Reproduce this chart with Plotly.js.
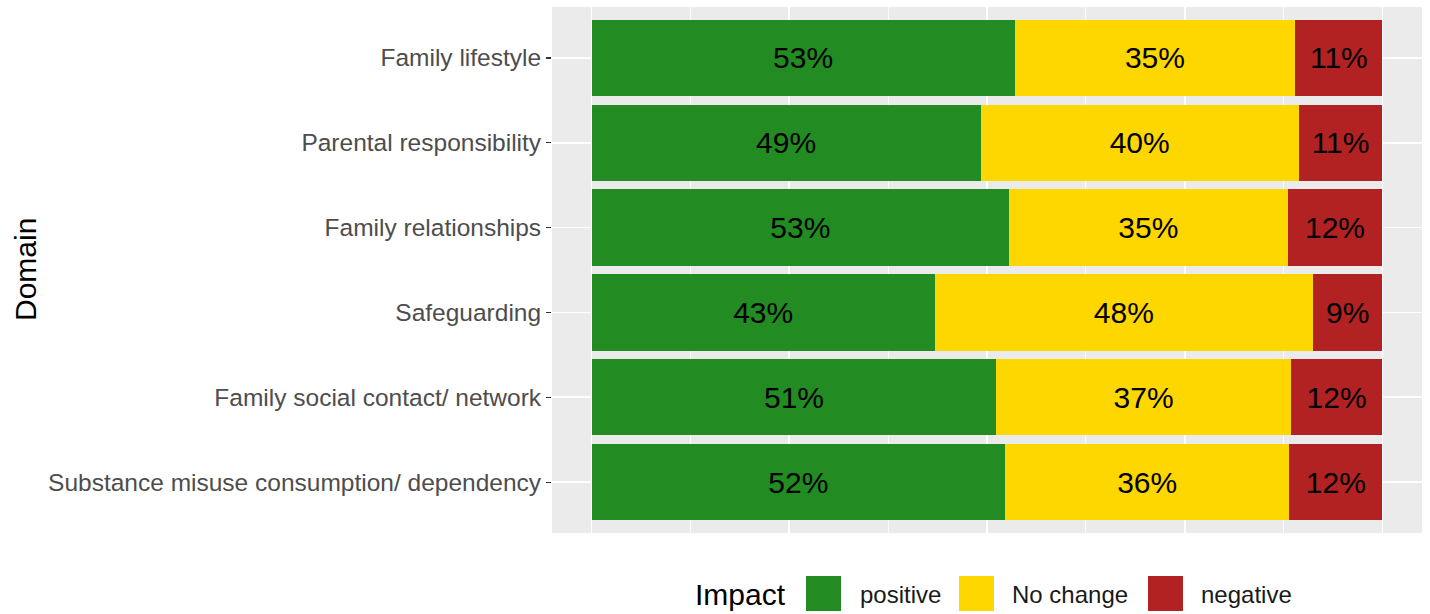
<!DOCTYPE html>
<html>
<head>
<meta charset="utf-8">
<script src="https://cdn.plot.ly/plotly-3.0.1.min.js"></script>
<style>html,body{margin:0;padding:0;background:#fff;}#chart{width:1430px;height:614px;}</style>
</head>
<body>
<div id="chart"></div>
<script>
// Data (top to bottom as displayed)
const domains = [
  "Family lifestyle",
  "Parental responsibility",
  "Family relationships",
  "Safeguarding",
  "Family social contact/ network",
  "Substance misuse consumption/ dependency"
];
const positive = [0.5349, 0.492, 0.528, 0.434, 0.512, 0.523];
const noChange = [0.3549, 0.402, 0.352, 0.478, 0.372, 0.359];
const negative = [0.1102, 0.106, 0.120, 0.088, 0.116, 0.118];
const seriesNames = ["positive", "No change", "negative"];
const seriesColors = ["#228B22", "#FFD700", "#B22222"];

const FONT = "Liberation Sans, Arial, sans-serif";
const W = 1430, H = 614;
const M = {l: 552, r: 8, t: 7, b: 81};
const plotW = W - M.l - M.r, plotH = H - M.t - M.b;
const px2x = p => (p - M.l) / plotW;
const py2y = p => (M.t + plotH - p) / plotH;

const pct = v => Math.round(v * 100) + "%";

const seriesVals = [positive, noChange, negative];
const traces = seriesVals.map((vals, i) => ({
  type: "bar",
  orientation: "h",
  name: seriesNames[i],
  y: domains,
  x: vals,
  marker: {color: seriesColors[i], line: {width: 0}},
  text: vals.map(pct),
  textposition: "inside",
  insidetextanchor: "middle",
  textangle: 0,
  constraintext: "none",
  textfont: {family: FONT, size: 30, color: "#000000"},
  hoverinfo: "name+x+y",
  showlegend: false
}));

// custom legend (ggplot-style large keys)
const legendY = py2y(594);
const keyLeft = [806, 959, 1148];
const labelLeft = [858, 1010, 1199];
const shapes = [];
const annotations = [];
seriesNames.forEach((n, i) => {
  shapes.push({
    type: "rect", xref: "paper", yref: "paper",
    x0: px2x(keyLeft[i]), x1: px2x(keyLeft[i] + 35),
    y0: py2y(611), y1: py2y(576),
    fillcolor: seriesColors[i], line: {width: 0}
  });
  annotations.push({
    xref: "paper", yref: "paper", x: px2x(labelLeft[i]), y: legendY,
    xanchor: "left", yanchor: "middle", showarrow: false,
    text: n, font: {family: FONT, size: 24, color: "#1a1a1a"}
  });
});
annotations.push({
  xref: "paper", yref: "paper", x: px2x(693), y: legendY,
  xanchor: "left", yanchor: "middle", showarrow: false,
  text: "Impact", font: {family: FONT, size: 30, color: "#000000"}
});
annotations.push({
  xref: "paper", yref: "paper", x: px2x(25), y: 0.5,
  xanchor: "center", yanchor: "middle", showarrow: false, textangle: -90,
  text: "Domain", font: {family: FONT, size: 30, color: "#000000"}
});

const layout = {
  width: W, height: H,
  margin: M,
  barmode: "stack",
  bargap: 0.1,
  paper_bgcolor: "#ffffff",
  plot_bgcolor: "#EBEBEB",
  font: {family: FONT},
  showlegend: false,
  xaxis: {
    range: [-0.05, 1.05],
    tick0: 0, dtick: 0.25,
    showticklabels: false,
    ticks: "",
    showgrid: true, gridcolor: "#ffffff", gridwidth: 1.6,
    minor: {dtick: 0.125, tick0: 0, showgrid: true, gridcolor: "#ffffff", gridwidth: 0.8},
    zeroline: false, showline: false
  },
  yaxis: {
    type: "category",
    range: [5.6, -0.6],
    ticks: "outside", ticklen: 5, tickwidth: 1.2, tickcolor: "#333333",
    tickfont: {family: FONT, size: 24.5, color: "#4D4D4D"},
    showgrid: true, gridcolor: "#ffffff", gridwidth: 1.6,
    zeroline: false, showline: false
  },
  shapes: shapes,
  annotations: annotations
};

Plotly.newPlot("chart", traces, layout, {displayModeBar: false, staticPlot: true});
</script>
</body>
</html>
